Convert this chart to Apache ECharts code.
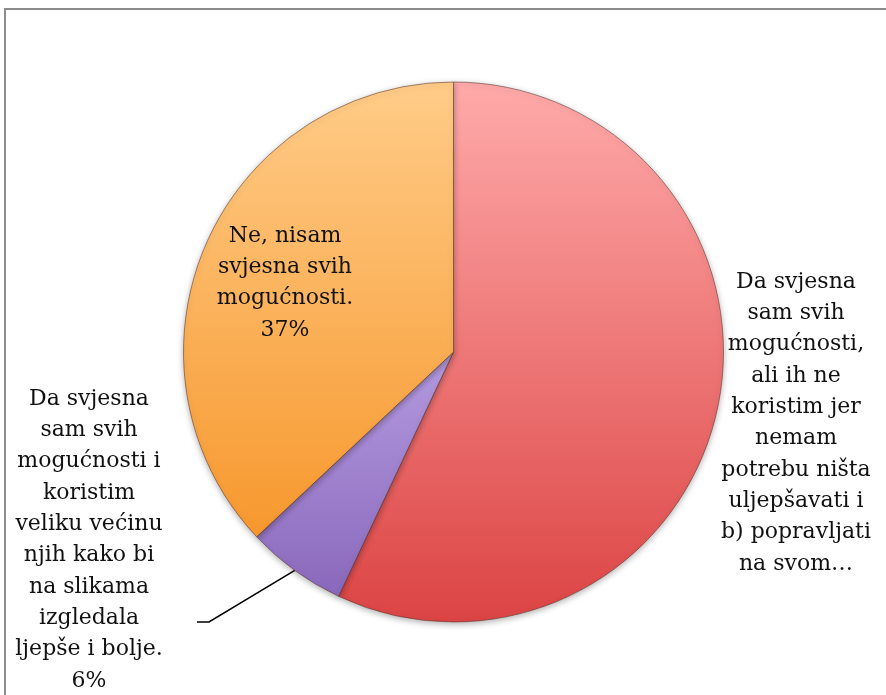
<!DOCTYPE html>
<html>
<head>
<meta charset="utf-8">
<script src="https://cdn.jsdelivr.net/npm/echarts@6/dist/echarts.min.js"></script>
<style>
  html, body { margin: 0; padding: 0; background: #fff; }
  #chart { width: 886px; height: 695px; }
</style>
</head>
<body>
<div id="chart"></div>
<script>
// slice names (line breaks as shown in the picture) and shares in %
const categories = [
  'Da svjesna\nsam svih\nmogućnosti,\nali ih ne\nkoristim jer\nnemam\npotrebu ništa\nuljepšavati i\nb) popravljati\nna svom…',
  'Da svjesna\nsam svih\nmogućnosti i\nkoristim\nveliku većinu\nnjih kako bi\nna slikama\nizgledala\nljepše i bolje.',
  'Ne, nisam\nsvjesna svih\nmogućnosti.'
]
const values = [57, 6, 37]
const showPercent = [false, true, true]

const chart = echarts.init(document.getElementById('chart'))

const grad = (top, bottom) => new echarts.graphic.LinearGradient(0, 0, 0, 1, [
  { offset: 0, color: top },
  { offset: 1, color: bottom }
])
const fills = [
  grad('#ffaaaa', '#dc4444'),
  grad('#b49be0', '#8a68bc'),
  grad('#ffcc88', '#f7982e')
]

// where each label sits (centre of text block)
const labelPos = [
  { x: 796, y: 423 },
  { x: 89, y: 540 },
  { x: 285, y: 283 }
]

const option = {
  backgroundColor: '#ffffff',
  animation: false,
  graphic: [{
    type: 'rect',
    shape: { x: 5, y: 9, width: 900, height: 720 },
    style: { fill: 'none', stroke: '#8c8c8c', lineWidth: 2 }
  }],
  series: [{
    type: 'pie',
    center: [453.5, 352],
    radius: 270,
    startAngle: 90,
    clockwise: true,
    data: values.map((v, i) => ({
      value: v,
      name: categories[i],
      itemStyle: { color: fills[i] },
      labelLine: { show: i === 1 }
    })),
    itemStyle: {
      borderColor: 'rgba(90,50,40,0.55)',
      borderWidth: 1,
      shadowBlur: 6,
      shadowColor: 'rgba(0,0,0,0.3)',
      shadowOffsetY: 2
    },
    label: {
      show: true,
      position: 'outside',
      formatter: p => showPercent[p.dataIndex] ? p.name + '\n' + p.percent.toFixed(0) + '%' : p.name,
      fontFamily: 'DejaVu Serif',
      fontSize: 22,
      lineHeight: 31.3,
      color: '#111',
      align: 'center',
      overflow: 'none',
      width: 200
    },
    labelLine: {
      show: true,
      length: 30,
      length2: 12,
      lineStyle: { color: '#000', width: 1.5 }
    },
    labelLayout: p => {
      const pos = labelPos[p.dataIndex]
      const out = { x: pos.x, y: pos.y, align: 'center', verticalAlign: 'middle' }
      if (p.dataIndex === 1 && p.labelLinePoints) {
        // leader runs from the slice edge down to the "izgledala" line
        out.labelLinePoints = [p.labelLinePoints[0], [209, 622], [197, 622]]
      }
      return out
    }
  }]
}

chart.setOption(option)
window.addEventListener('resize', () => chart.resize())
</script>
</body>
</html>
